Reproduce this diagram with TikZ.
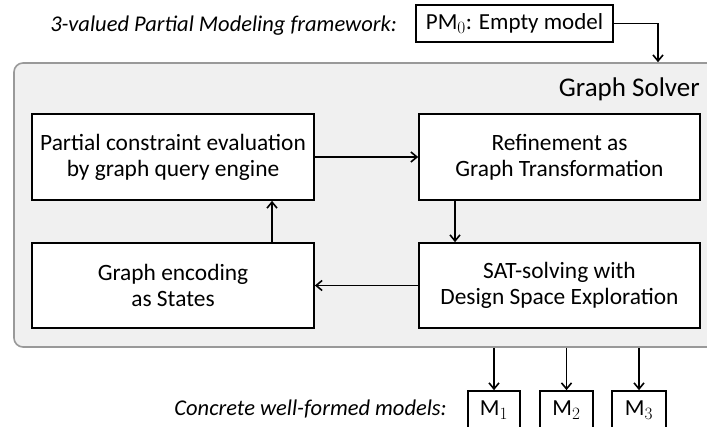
\documentclass[tikz,border=0pt]{standalone}
\usepackage{fontspec}
\setmainfont{Carlito}
\usetikzlibrary{arrows.meta}
\definecolor{grayfill}{HTML}{F0F0F0}
\definecolor{graybd}{HTML}{999999}
\begin{document}
\begin{tikzpicture}[x=1pt,y=-1pt,
  stepbox/.style={draw=black, line width=1.7pt, fill=white, align=center, inner sep=0pt,
    font=\fontsize{23.4}{26}\selectfont},
  smallbox/.style={draw=black, line width=1.7pt, fill=white, inner sep=0pt,
    font=\fontsize{23}{26}\selectfont},
  arr/.style={-{Straight Barb[length=6pt,width=10pt]}, line width=1.6pt},
  lbl/.style={font=\itshape\fontsize{22.5}{26}\selectfont, anchor=base east, inner sep=0pt}]
\useasboundingbox (0,0) rectangle (707,427);
\clip (0,0) rectangle (707,427);
% solver frame
\node[draw=graybd, fill=grayfill, rounded corners=9pt, line width=1.6pt,
  minimum width=716pt, minimum height=284pt, inner sep=0pt] (solver) at (372,205) {};
\node[anchor=base east, inner sep=0pt, font=\fontsize{27}{30}\selectfont] (title) at (700,97) {Graph Solver};
% inner boxes
\node[stepbox, minimum width=282pt, minimum height=86pt] (b1) at (173,157)
  {Partial constraint evaluation\\by graph query engine};
\node[stepbox, minimum width=281pt, minimum height=86pt] (b2) at (559.5,157)
  {Refinement as\\Graph Transformation};
\node[stepbox, minimum width=282pt, minimum height=85pt] (b3) at (173,285.5)
  {Graph encoding\\as States};
\node[stepbox, minimum width=281pt, minimum height=85pt] (b4) at (559.5,285.5)
  {SAT-solving with\\Design Space Exploration};
% top
\node[lbl] (toplbl) at (397,32) {3-valued Partial Modeling framework:};
\node[smallbox, minimum width=197pt, minimum height=37pt] (pm) at (514.5,23.5)
  {$\mathrm{PM}_0$: Empty model};
% bottom
\node[lbl] (botlbl) at (447,416) {Concrete well-formed models:};
\node[smallbox, minimum width=52pt, minimum height=38pt] (m1) at (494,410) {$\mathrm{M}_1$};
\node[smallbox, minimum width=53pt, minimum height=38pt] (m2) at (566.5,410) {$\mathrm{M}_2$};
\node[smallbox, minimum width=54pt, minimum height=38pt] (m3) at (639,410) {$\mathrm{M}_3$};
% helper coordinates
\coordinate (cin) at (658,0);
\coordinate (c24) at (455,0);
\coordinate (c31) at (272,0);
% connectors
\draw[arr] (pm.east) -| (cin |- solver.north);
\draw[arr] (b1.east) -- (b2.west);
\draw[arr] (c24 |- b2.south) -- (c24 |- b4.north);
\draw[arr] (b4.west) -- (b3.east);
\draw[arr] (c31 |- b3.north) -- (c31 |- b1.south);
\draw[arr] (m1.north |- solver.south) -- (m1.north);
\draw[arr] (m2.north |- solver.south) -- (m2.north);
\draw[arr] (m3.north |- solver.south) -- (m3.north);
\end{tikzpicture}
\end{document}
